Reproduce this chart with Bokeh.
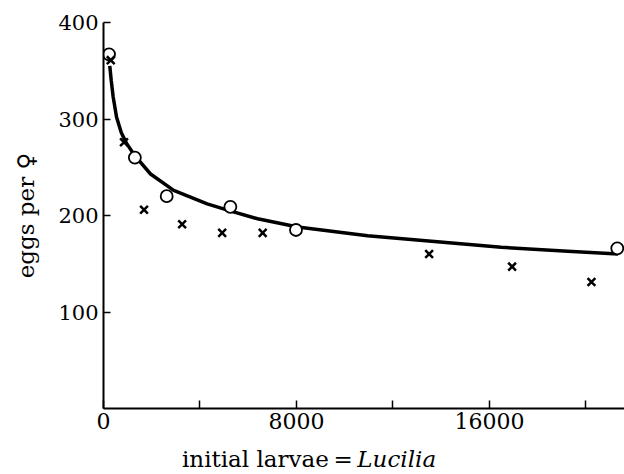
from bokeh.embed import file_html
from bokeh.layouts import column
from bokeh.models import Div, FixedTicker, Range1d
from bokeh.plotting import figure
from bokeh.resources import INLINE

# Egg production per female against the initial number of larvae (Lucilia)
circle_x = [230, 1300, 2620, 5260, 7980, 21300]
circle_y = [367, 260, 220, 209, 185, 166]

cross_x = [300, 850, 1680, 3260, 4920, 6600, 13500, 16940, 20230]
cross_y = [361, 276, 206, 191, 182, 182, 160, 147, 131]

# fitted curve, read along its length
curve_x = [260, 320, 400, 540, 735, 950, 1300, 1950, 2910, 4300, 5280,
           6390, 8050, 10950, 13720, 16490, 19250, 21330]
curve_y = [355, 340, 323, 302, 286, 275, 262, 243, 226, 212, 204.5,
           196.6, 188, 179, 173, 167, 163, 160]

x_ticks = [0, 4000, 8000, 12000, 16000, 20000]
x_tick_text = {0: "0", 4000: "", 8000: "8000", 12000: "", 16000: "16000", 20000: ""}
y_ticks = [100, 200, 300, 400]

FONT = "DejaVu Serif"

p = figure(width=624, height=445, output_backend="svg", toolbar_location=None,
           x_range=Range1d(0, 21600), y_range=Range1d(0, 400),
           min_border_left=103, min_border_right=0,
           min_border_top=22, min_border_bottom=37)
p.outline_line_color = None
p.grid.visible = False
p.background_fill_color = "white"
p.border_fill_color = "white"

for ax in (p.xaxis[0], p.yaxis[0]):
    ax.axis_line_width = 2
    ax.axis_line_color = "black"
    ax.major_tick_line_color = "black"
    ax.major_tick_line_width = 1.5
    ax.major_tick_out = 0
    ax.minor_tick_line_color = None
    ax.major_label_text_font = FONT
    ax.major_label_text_color = "black"

p.xaxis.ticker = FixedTicker(ticks=x_ticks)
p.xaxis.major_label_overrides = x_tick_text
p.xaxis.major_tick_in = 8
p.xaxis.major_label_text_font_size = "22px"
p.xaxis.major_label_standoff = 4

p.yaxis.ticker = FixedTicker(ticks=y_ticks)
p.yaxis.major_tick_in = 7
p.yaxis.major_label_text_font_size = "21px"
p.yaxis.major_label_standoff = 5
p.yaxis.axis_label = "eggs per \u2640"
p.yaxis.axis_label_text_font = FONT
p.yaxis.axis_label_text_font_style = "normal"
p.yaxis.axis_label_text_font_size = "23px"
p.yaxis.axis_label_text_color = "black"
p.yaxis.axis_label_standoff = 16

# fitted curve, then the two sets of observations on top
p.line(curve_x, curve_y, line_color="black", line_width=3.5)
p.scatter(circle_x, circle_y, marker="circle", size=12, fill_color="white",
          line_color="black", line_width=1.8)
p.scatter(cross_x, cross_y, marker="x", size=11, line_color="black",
          line_width=2.5)

# x-axis title with the genus name in italics
x_title = Div(
    text="initial larvae\u2009=\u2009<i>Lucilia</i>",
    width=624, height=29, margin=0,
    styles={"font-family": FONT, "font-size": "23px", "line-height": "29px",
            "padding-left": "182px", "color": "black", "white-space": "nowrap"},
)

layout = column(p, x_title, spacing=0)
open("out.html", "w").write(file_html(layout, INLINE))
